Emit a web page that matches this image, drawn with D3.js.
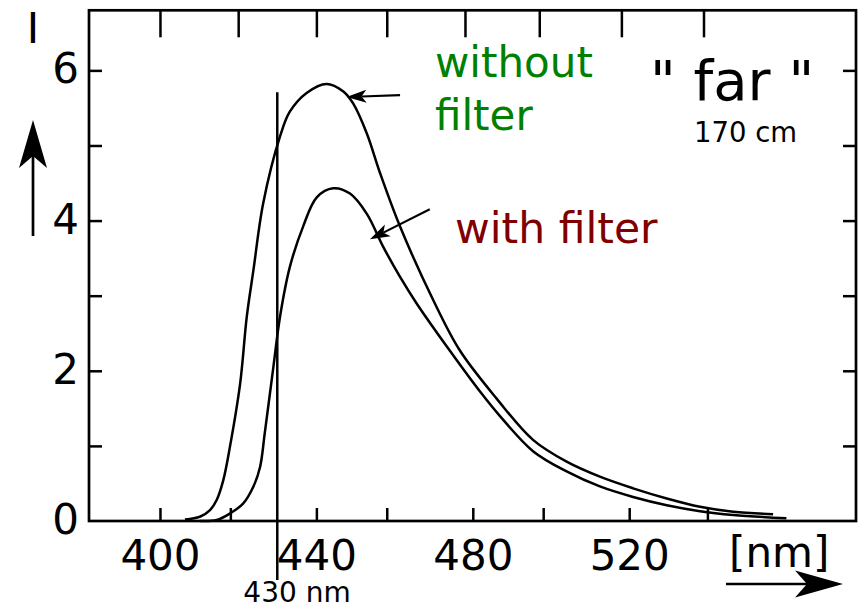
<!DOCTYPE html>
<html>
<head>
<meta charset="utf-8">
<script src="https://cdn.jsdelivr.net/npm/d3@7"></script>
<style>
  body { margin: 0; background: #fff; }
  svg { display: block; font-family: "DejaVu Sans", sans-serif; }
</style>
</head>
<body>
<div id="chart"></div>
<script>
// spectrum: wavelength [nm] -> intensity I
const wavelengthNoFilter = [406.4, 410.2, 412.8, 414.5, 416.2, 417.9, 420.5, 422.2, 423.9, 426.4, 430.7, 433.2, 437.5, 442.6, 446.9, 449.4, 452.9, 456.3, 461.4, 469.9, 476.7, 486.1, 495.4, 504.0, 512.5, 521.0, 529.6, 538.1, 546.6, 556.8];
const intensityNoFilter = [0.02, 0.057, 0.146, 0.28, 0.545, 0.99, 1.83, 2.72, 3.34, 4.23, 5.12, 5.45, 5.70, 5.82, 5.72, 5.56, 5.16, 4.63, 3.92, 2.94, 2.27, 1.63, 1.08, 0.79, 0.59, 0.435, 0.30, 0.19, 0.124, 0.09];

const wavelengthFilter = [410.2, 414.5, 417.9, 421.3, 423.9, 425.6, 426.8, 429.0, 430.7, 433.2, 436.6, 440.1, 444.3, 448.6, 452.9, 457.1, 461.4, 465.6, 474.1, 482.2, 486.9, 495.4, 504.0, 512.5, 521.0, 529.6, 538.1, 546.6, 560.2];
const intensityFilter = [0, 0.013, 0.10, 0.235, 0.46, 0.72, 1.17, 2.05, 2.72, 3.38, 3.92, 4.31, 4.43, 4.36, 4.09, 3.65, 3.25, 2.90, 2.27, 1.70, 1.40, 0.93, 0.66, 0.46, 0.32, 0.21, 0.13, 0.08, 0.035];

const xLabelTicks = [400, 440, 480, 520];
const xMinorTicks = [418, 458, 498, 540];
const xTopTicks = [400, 420, 440, 458, 478, 497, 518, 539];
const yLabelTicks = [0, 2, 4, 6];
const yTicks = [1, 2, 3, 4, 5, 6];
const markerLine = 430;

const width = 863, height = 608;
const fontSize = 42;

const x = d3.scaleLinear().domain([381.85, 578]).range([89, 856]);
const y = d3.scaleLinear().domain([0, 6.8]).range([521, 10.3]);

const svg = d3.select("#chart").append("svg")
  .attr("width", width)
  .attr("height", height);

const line = d3.line()
  .x(d => x(d[0]))
  .y(d => y(d[1]))
  .curve(d3.curveCatmullRom.alpha(0.5));

// curves
[[wavelengthNoFilter, intensityNoFilter], [wavelengthFilter, intensityFilter]].forEach(([wl, iv]) => {
  svg.append("path")
    .datum(d3.zip(wl, iv))
    .attr("d", line)
    .attr("fill", "none")
    .attr("stroke", "#000")
    .attr("stroke-width", 2.5);
});

// ticks (all pointing inward)
const tickStyle = g => {
  g.select(".domain").remove();
  g.selectAll(".tick line").attr("stroke", "#000").attr("stroke-width", 2.5);
};

svg.append("g")
  .attr("transform", `translate(0,${y(0)})`)
  .call(d3.axisBottom(x).tickValues(xLabelTicks.concat(xMinorTicks)).tickSize(-13).tickFormat(""))
  .call(tickStyle);

svg.append("g")
  .attr("transform", `translate(0,${y.range()[1]})`)
  .call(d3.axisTop(x).tickValues(xTopTicks).tickSize(-27).tickFormat(""))
  .call(tickStyle);

svg.append("g")
  .attr("transform", `translate(${x.range()[0]},0)`)
  .call(d3.axisLeft(y).tickValues(yTicks).tickSize(-13).tickFormat(""))
  .call(tickStyle);

svg.append("g")
  .attr("transform", `translate(${x.range()[1]},0)`)
  .call(d3.axisRight(y).tickValues(yTicks).tickSize(-13).tickFormat(""))
  .call(tickStyle);

// tick labels
svg.append("g")
  .attr("transform", `translate(0,${y(0)})`)
  .call(d3.axisBottom(x).tickValues(xLabelTicks).tickSize(0).tickPadding(19).tickFormat(d3.format("d")))
  .call(g => g.select(".domain").remove())
  .call(g => g.selectAll("text").attr("font-size", fontSize).attr("font-family", "DejaVu Sans").attr("fill", "#000"));

svg.append("g")
  .attr("transform", `translate(${x.range()[0]},0)`)
  .call(d3.axisLeft(y).tickValues(yLabelTicks).tickSize(0).tickPadding(10).tickFormat(d3.format("d")))
  .call(g => g.select(".domain").remove())
  .call(g => g.selectAll("text").attr("font-size", fontSize).attr("font-family", "DejaVu Sans").attr("fill", "#000").attr("dy", "0.3em"));

// frame
svg.append("rect")
  .attr("x", x.range()[0])
  .attr("y", y.range()[1])
  .attr("width", x.range()[1] - x.range()[0])
  .attr("height", y.range()[0] - y.range()[1])
  .attr("fill", "none")
  .attr("stroke", "#000")
  .attr("stroke-width", 2.7);

// 430 nm marker
svg.append("line")
  .attr("x1", x(markerLine)).attr("x2", x(markerLine))
  .attr("y1", y(5.71)).attr("y2", 580)
  .attr("stroke", "#000")
  .attr("stroke-width", 2.5);

// arrows: shaft + notched head
function arrow(x0, y0, x1, y1, len, w, sw) {
  const dx = x1 - x0, dy = y1 - y0, d = Math.hypot(dx, dy);
  const ux = dx / d, uy = dy / d, px = -uy, py = ux;
  const bx = x1 - ux * len, by = y1 - uy * len;
  const nx = x1 - ux * len * 0.75, ny = y1 - uy * len * 0.75;
  svg.append("line")
    .attr("x1", x0).attr("y1", y0).attr("x2", nx).attr("y2", ny)
    .attr("stroke", "#000").attr("stroke-width", sw);
  svg.append("path")
    .attr("d", `M${x1},${y1}L${bx + px * w / 2},${by + py * w / 2}L${nx},${ny}L${bx - px * w / 2},${by - py * w / 2}Z`)
    .attr("fill", "#000");
}

arrow(33, 236, 33, 120, 48, 28, 2.7);
arrow(726, 584, 843, 584, 48, 27, 2.7);
arrow(x(461.4), y(5.67), x(447.7), y(5.645), 20, 13, 2.2);
arrow(x(469.0), y(4.15), x(453.7), y(3.75), 20, 13, 2.2);

// labels
const text = (tx, ty, s, size, fill, anchor) =>
  svg.append("text")
    .attr("x", tx).attr("y", ty)
    .attr("font-size", size)
    .attr("fill", fill || "#000")
    .attr("text-anchor", anchor || "start")
    .text(s);

text(33, 43, "I", fontSize, "#000", "middle");
text(729, 567, "[nm]", fontSize);
text(435, 77, "without", fontSize, "#008000");
text(435, 130, "filter", fontSize, "#008000");
text(455, 243, "with filter", 42.5, "#800000");
text(650, 100, "\" far \"", 56);
text(694, 142, "170 cm", 27.5);
text(297, 602, "430 nm", 28, "#000", "middle");
</script>
</body>
</html>
